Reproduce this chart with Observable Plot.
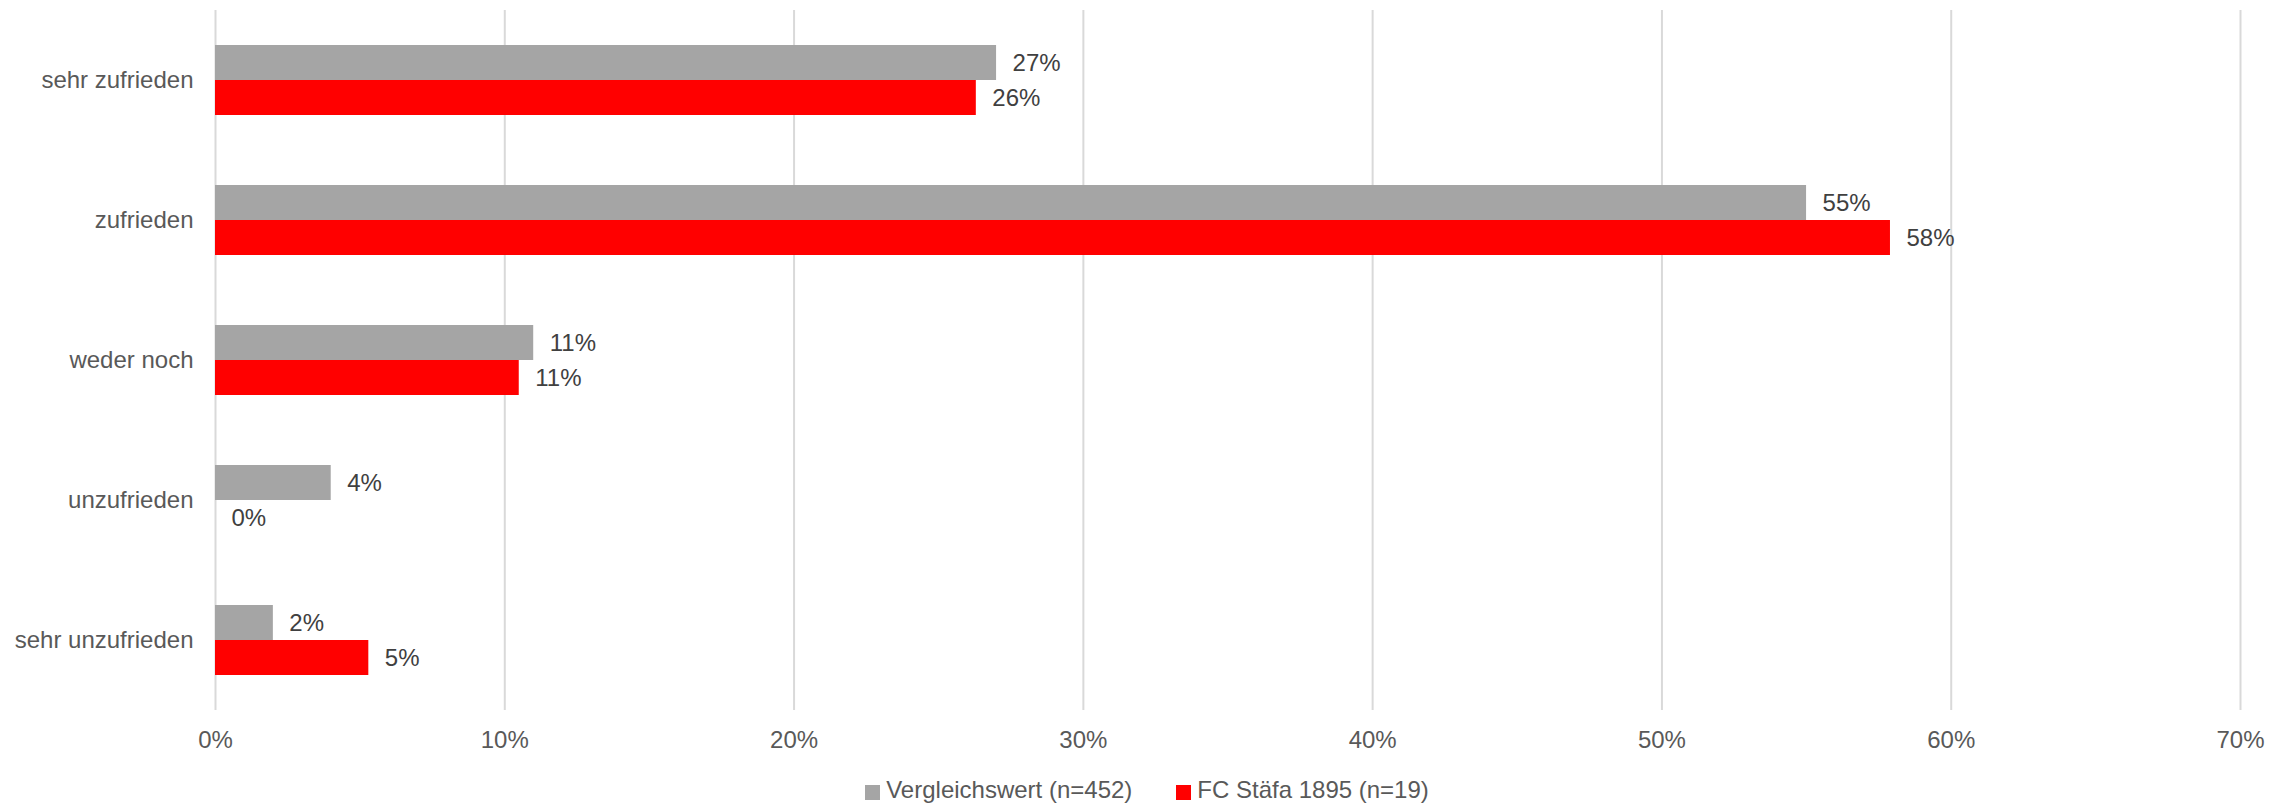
<!DOCTYPE html>
<html>
<head>
<meta charset="utf-8">
<script src="https://cdn.jsdelivr.net/npm/d3@7"></script>
<script src="https://cdn.jsdelivr.net/npm/@observablehq/plot@0.6"></script>
<style>
  html, body { margin: 0; padding: 0; background: #ffffff; }
  body { width: 2292px; height: 805px; overflow: hidden; font-family: "Liberation Sans", Arial, sans-serif; }
  #chart svg { display: block; }
  #legend { display: flex; justify-content: center; align-items: center; margin-top: 11px; height: 28px; line-height: 28px; font-size: 24px; color: #595959; padding-left: 2px; }
  .item { display: flex; align-items: center; }
  .item + .item { margin-left: 44px; }
  .sw { width: 15px; height: 15px; margin-right: 6px; margin-top: 5px; }
</style>
</head>
<body>
<div id="chart"></div>
<div id="legend"></div>
<script>
const categories = ["sehr zufrieden", "zufrieden", "weder noch", "unzufrieden", "sehr unzufrieden"];
const seriesNames = ["Vergleichswert (n=452)", "FC Stäfa 1895 (n=19)"];
const vergleichswert = [27.0, 55.0, 11.0, 4.0, 2.0];
const fcStaefa = [26.3, 57.9, 10.5, 0, 5.3];
const seriesColors = ["#a5a5a5", "#ff0000"];
const xTicks = [0, 10, 20, 30, 40, 50, 60, 70];

const data = categories.flatMap((c, i) => [
  {category: c, series: seriesNames[0], value: vergleichswert[i]},
  {category: c, series: seriesNames[1], value: fcStaefa[i]}
]);

const chart = Plot.plot({
  width: 2292,
  height: 765,
  marginTop: 8,
  marginBottom: 53,
  marginLeft: 215,
  marginRight: 52,
  style: {fontFamily: '"Liberation Sans", Arial, sans-serif', fontSize: "24px", color: "#595959", background: "#ffffff"},
  x: {domain: [0, 70], axis: null},
  y: {domain: seriesNames, paddingInner: 0, paddingOuter: 0.96, axis: null},
  fy: {domain: categories, padding: 0, axis: null},
  color: {domain: seriesNames, range: seriesColors},
  marks: [
    Plot.gridX(xTicks, {stroke: "#d9d9d9", strokeOpacity: 1, strokeWidth: 2}),
    Plot.barX(data, {fy: "category", y: "series", x: "value", fill: "series"}),
    Plot.text(data, {fy: "category", y: "series", x: "value", text: d => Math.round(d.value) + "%", dx: 16, textAnchor: "start", fill: "#404040"}),
    Plot.axisX(xTicks, {tickSize: 0, tickPadding: 20, tickFormat: d => d + "%", label: null, fill: "#595959"}),
    Plot.axisFy({anchor: "left", tickSize: 0, tickPadding: 22, label: null, fill: "#595959"})
  ]
});
document.getElementById("chart").append(chart);

const legend = document.getElementById("legend");
seriesNames.forEach((name, i) => {
  const item = document.createElement("div");
  item.className = "item";
  const sw = document.createElement("span");
  sw.className = "sw";
  sw.style.background = seriesColors[i];
  const label = document.createElement("span");
  label.textContent = name;
  item.append(sw, label);
  legend.append(item);
});
</script>
</body>
</html>
